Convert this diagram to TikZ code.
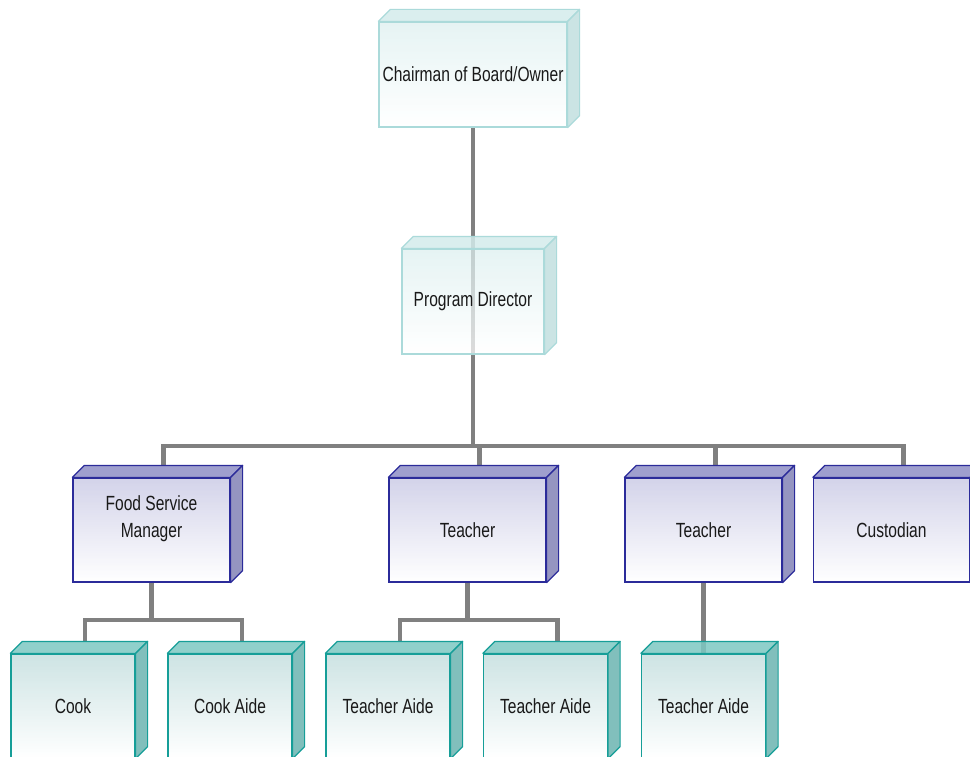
\documentclass[tikz,border=0pt]{standalone}
\usepackage{fontspec}
\newfontfamily\orgfont[FakeStretch=0.76]{Liberation Sans}
\usetikzlibrary{calc}

\definecolor{cyanline}{HTML}{ABDADA}
\definecolor{cyantop}{HTML}{D3EBEB}
\definecolor{cyanside}{HTML}{C2DFDF}
\definecolor{cyanfront}{HTML}{DCEFEF}
\definecolor{purpleline}{HTML}{2B2B9A}
\definecolor{purpletop}{HTML}{8E8EC6}
\definecolor{purpleside}{HTML}{8383B6}
\definecolor{purplefront}{HTML}{C2C2E1}
\definecolor{tealline}{HTML}{169E98}
\definecolor{tealtop}{HTML}{7DC8C2}
\definecolor{tealside}{HTML}{6BB4B0}
\definecolor{tealfront}{HTML}{BAD9D9}
\definecolor{linkgray}{HTML}{808080}

\pgfdeclarelayer{bg}
\pgfsetlayers{bg,main}

\newcommand{\dep}{12}
% name, position, width, height, colour set, text
\newcommand{\orgbox}[6]{%
	\node[box=#5, minimum width=#3pt, minimum height=#4pt] (#1) at #2 {#6};
	\filldraw[face=#5, fill=#5top] (#1.north west) -- ([shift={(\dep,-\dep)}]#1.north west) -- ([shift={(\dep,-\dep)}]#1.north east) -- (#1.north east) -- cycle;
	\filldraw[face=#5, fill=#5side] (#1.north east) -- ([shift={(\dep,-\dep)}]#1.north east) -- ([shift={(\dep,-\dep)}]#1.south east) -- (#1.south east) -- cycle;
	\coordinate (#1-in) at ([shift={(\dep,-\dep)}]#1.north);
}

\tikzset{
	box/.style={draw=#1line, line width=1.2pt, top color=#1front, bottom color=white, fill opacity=0.72, text opacity=1, inner sep=0pt, align=center, text=black!90, font=\orgfont\fontsize{20.5}{27}\selectfont},
	face/.style={draw=#1line, line width=1.2pt, line join=round, fill opacity=0.85},
	link/.style={draw=linkgray, line width=4.5pt}
}

\begin{document}
\begin{tikzpicture}[x=1pt, y=-1pt]
		\useasboundingbox (0,0) rectangle (970,757);
		\clip (0,0) rectangle (970,757);
		%top
			\orgbox{chair}{(473,74.5)}{188}{105}{cyan}{Chairman of Board/Owner}
			\orgbox{pd}{(473,301.5)}{142}{105}{cyan}{Program Director}
		%middle row
			\orgbox{fsm}{(151.5,530)}{157}{104}{purple}{Food Service\\Manager\\~}
			\orgbox{teach1}{(467.5,530)}{157}{104}{purple}{Teacher}
			\orgbox{teach2}{(703.5,530)}{157}{104}{purple}{Teacher}
			\orgbox{cust}{(891.5,530)}{156}{104}{purple}{Custodian}
		%bottom row
			\orgbox{cook}{(73,706)}{124}{104}{teal}{Cook}
			\orgbox{cookaide}{(230,706)}{124}{104}{teal}{Cook Aide}
			\orgbox{aide1}{(388,706)}{124}{104}{teal}{Teacher Aide}
			\orgbox{aide2}{(545.5,706)}{124}{104}{teal}{Teacher Aide}
			\orgbox{aide3}{(703.5,706)}{124}{104}{teal}{Teacher Aide}
		%connectors
		\begin{pgfonlayer}{bg}
			\coordinate (bus1) at (473,446);
			\coordinate (bus2) at (151.5,620);
			\coordinate (bus3) at (467.5,620);
			\draw[link] (chair.south) -- (bus1);
			\draw[link] (bus1) -| (fsm-in);
			\draw[link] (bus1) -| (teach1-in);
			\draw[link] (bus1) -| (teach2-in);
			\draw[link] (bus1) -| (cust-in);
			% food service
			\draw[link] (fsm.south) -- (bus2);
			\draw[link] (bus2) -| (cook-in);
			\draw[link] (bus2) -| (cookaide-in);
			% teachers
			\draw[link] (teach1.south) -- (bus3);
			\draw[link] (bus3) -| (aide1-in);
			\draw[link] (bus3) -| (aide2-in);
			\draw[link] (teach2.south) -- (aide3.north);
		\end{pgfonlayer}
\end{tikzpicture}
\end{document}
